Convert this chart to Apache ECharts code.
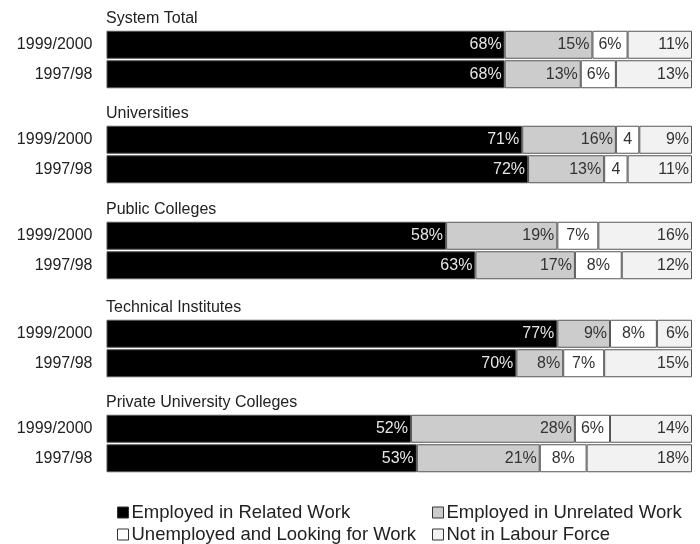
<!DOCTYPE html>
<html>
<head>
<meta charset="utf-8">
<style>
  html, body { margin: 0; padding: 0; background: #ffffff; }
  #chart { width: 700px; height: 544px; }
</style>
<script src="https://cdn.jsdelivr.net/npm/echarts@6/dist/echarts.min.js"></script>
</head>
<body>
<div id="chart"></div>
<script>
// Graduate outcomes by institution type, two survey periods (percent of graduates)
const periods = ['1999/2000', '1997/98'];
const groups = ['System Total', 'Universities', 'Public Colleges', 'Technical Institutes', 'Private University Colleges'];

// one [1999/2000, 1997/98] pair per group, in the order of `groups`
const relatedWork      = [[68, 68], [71, 72], [58, 63], [77, 70], [52, 53]];
const unrelatedWork    = [[15, 13], [16, 13], [19, 17], [9, 8],   [28, 21]];
const unemployed       = [[6, 6],   [4, 4],   [7, 8],   [8, 7],   [6, 8]];
const notInLabourForce = [[11, 13], [9, 11],  [16, 12], [6, 15],  [14, 18]];

const seriesNames = [
  'Employed in Related Work',
  'Employed in Unrelated Work',
  'Unemployed and Looking for Work',
  'Not in Labour Force'
];

const FONT = '"Liberation Sans", Arial, sans-serif';
const fills = ['#000000', '#cccccc', '#ffffff', '#f2f2f2'];
const labelColors = ['#e6e6e6', '#333333', '#333333', '#333333'];
const labelPositions = ['insideRight', 'insideRight', 'inside', 'insideRight'];
const seriesData = [relatedWork, unrelatedWork, unemployed, notInLabourForce];

// layout of the five panels
const gridTops = [30, 125, 221, 319, 414];
const gridHeight = 59;

const grids = [], xAxes = [], yAxes = [], titles = [], series = [];

groups.forEach((g, i) => {
  grids.push({ left: 106.5, right: 8, top: gridTops[i], height: gridHeight });
  xAxes.push({ gridIndex: i, type: 'value', min: 0, max: 100, show: false });
  yAxes.push({
    gridIndex: i, type: 'category', data: periods, inverse: true,
    axisLine: { show: false }, axisTick: { show: false },
    axisLabel: { color: '#222', fontSize: 16, fontFamily: FONT, margin: 14 }
  });
  titles.push({
    text: g, left: 106, top: gridTops[i] - 19, padding: 0,
    textStyle: { fontSize: 16, fontWeight: 'normal', color: '#222', fontFamily: FONT }
  });
  seriesData.forEach((arr, k) => {
    series.push({
      name: seriesNames[k], type: 'bar', stack: 'g' + i,
      xAxisIndex: i, yAxisIndex: i,
      barWidth: 28,
      data: arr[i],
      itemStyle: { color: fills[k], borderColor: '#555555', borderWidth: 1 },
      label: {
        show: true, position: labelPositions[k], distance: 3,
        color: labelColors[k], fontSize: 16, fontFamily: FONT,
        formatter: p => (p.value >= 5 ? p.value + '%' : String(p.value))
      },
      emphasis: { disabled: true },
      animation: false
    });
  });
});

// legend in two rows, two columns
const legendSpots = [
  { left: 117, top: 503 }, { left: 432, top: 503 },
  { left: 117, top: 525 }, { left: 432, top: 525 }
];
const legends = seriesNames.map((n, k) => ({
  data: [n], left: legendSpots[k].left, top: legendSpots[k].top,
  padding: 0, icon: 'rect', itemWidth: 11, itemHeight: 11,
  selectedMode: false,
  itemStyle: { borderColor: '#333333', borderWidth: 1 },
  textStyle: { fontSize: 18.5, color: '#222', fontFamily: FONT, padding: [0, 0, 0, -2] }
}));

const chart = echarts.init(document.getElementById('chart'), null, { renderer: 'canvas' });
chart.setOption({
  backgroundColor: '#ffffff',
  animation: false,
  title: titles,
  legend: legends,
  grid: grids,
  xAxis: xAxes,
  yAxis: yAxes,
  series: series
});
</script>
</body>
</html>
